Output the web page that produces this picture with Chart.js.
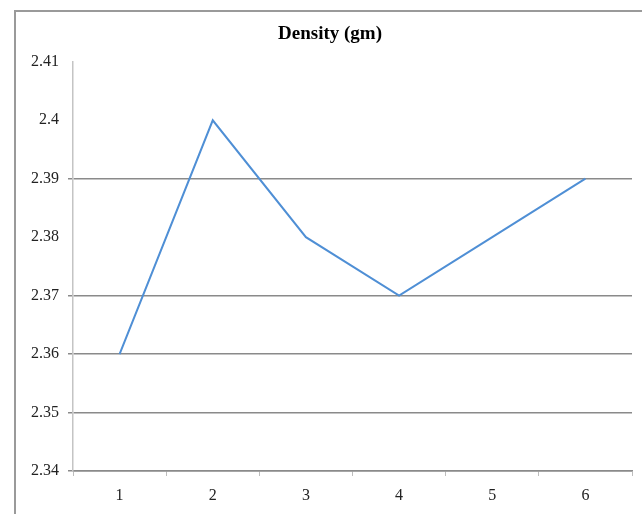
<!DOCTYPE html>
<html>
<head>
<meta charset="utf-8">
<script src="https://cdn.jsdelivr.net/npm/chart.js@4/dist/chart.umd.min.js"></script>
<style>
  html, body { margin: 0; padding: 0; background: #fff; overflow: hidden; }
  #wrap { position: relative; width: 642px; height: 514px; overflow: hidden; }
  #frame { position: absolute; left: 14px; top: 10px; width: 800px; height: 700px;
           border-left: 2px solid #9a9a9a; border-top: 2px solid #9a9a9a; }
  #c { position: absolute; left: 0; top: 0; }
</style>
</head>
<body>
<div id="wrap">
  <div id="frame"></div>
  <canvas id="c" width="642" height="514"></canvas>
</div>
<script>
// Sample numbers along the x axis
const sampleLabels = ['1', '2', '3', '4', '5', '6'];
// Measured density values
const densityValues = [2.36, 2.40, 2.38, 2.37, 2.38, 2.39];
// Value axis ticks
const yTickValues = [2.34, 2.35, 2.36, 2.37, 2.38, 2.39, 2.40, 2.41];
// Ticks shown without a gridline
const yQuietTicks = [2.38, 2.40, 2.41];

const serif = "'Liberation Serif', 'Times New Roman', serif";

new Chart(document.getElementById('c'), {
  type: 'line',
  data: {
    labels: sampleLabels,
    datasets: [{
      label: 'Density (gm)',
      data: densityValues,
      borderColor: '#4f8fd5',
      borderWidth: 2,
      pointRadius: 0,
      tension: 0,
      fill: false
    }]
  },
  options: {
    responsive: false,
    animation: false,
    devicePixelRatio: 1,
    layout: { padding: { left: 28, right: 10, top: 10, bottom: 0 } },
    plugins: {
      legend: { display: false },
      tooltip: { enabled: false },
      title: {
        display: true,
        text: 'Density (gm)',
        color: '#000',
        font: { family: serif, size: 19, weight: 'bold' },
        padding: { top: 13, bottom: 16 }
      }
    },
    scales: {
      x: {
        offset: true,
        grid: {
          offset: true,
          drawOnChartArea: false,
          drawTicks: true,
          tickLength: 5,
          color: '#bdbdbd'
        },
        border: { color: '#8a8a8a', width: 1.5 },
        ticks: {
          color: '#222',
          font: { family: serif, size: 16 },
          padding: 10,
          maxRotation: 0
        },
        afterFit: (s) => { s.height = 43; }
      },
      y: {
        min: 2.34,
        max: 2.41,
        afterBuildTicks: (s) => { s.ticks = yTickValues.map(v => ({ value: v })); },
        grid: {
          tickLength: 5,
          lineWidth: 1.5,
          color: (ctx) => {
            const v = ctx.tick ? +ctx.tick.value.toFixed(2) : null;
            return yQuietTicks.includes(v) ? 'rgba(0,0,0,0)' : '#8a8a8a';
          }
        },
        border: { color: '#c4c4c4', width: 1.5 },
        ticks: {
          color: '#222',
          font: { family: serif, size: 16 },
          padding: 9,
          callback: (v) => String(+(+v).toFixed(2))
        },
        afterFit: (s) => { s.width = 45; }
      }
    }
  }
});
</script>
</body>
</html>
